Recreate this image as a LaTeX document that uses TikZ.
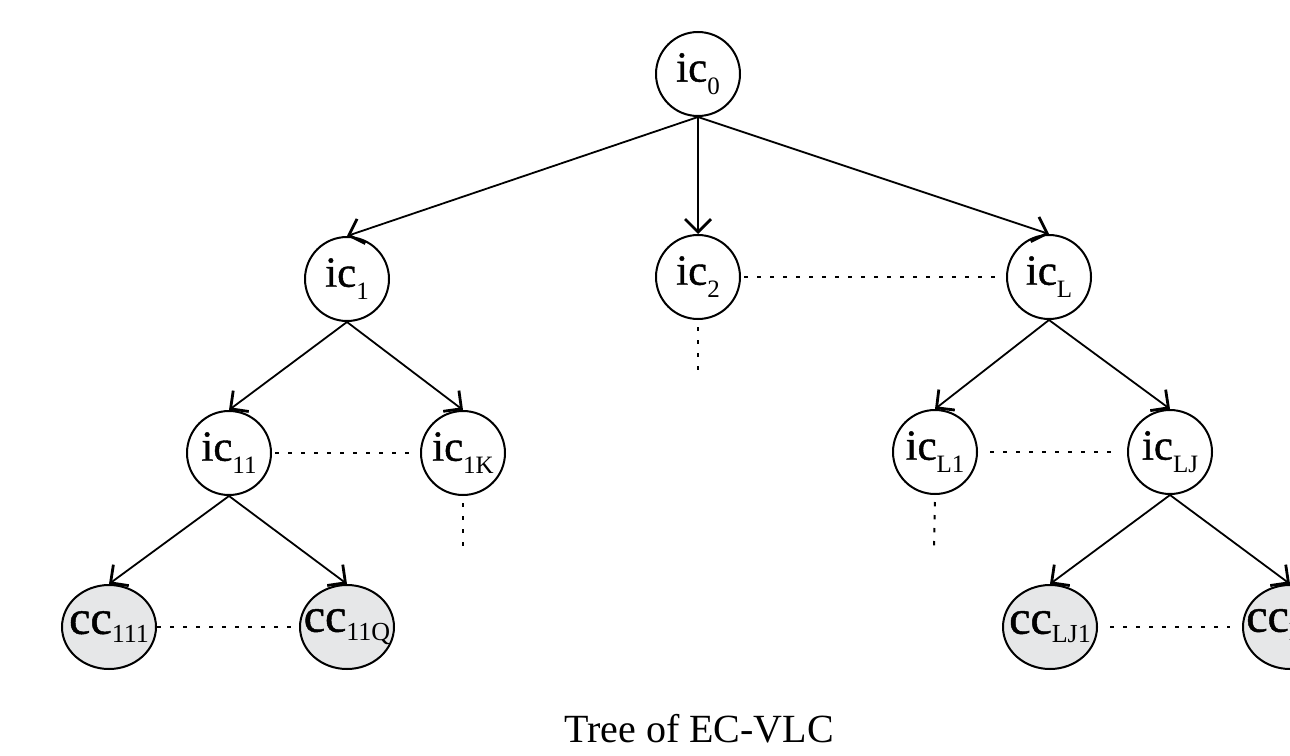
\documentclass[tikz,border=0pt]{standalone}
\usepackage{fontspec}
\setmainfont{Liberation Serif}
\newfontfamily\heavyfont[FakeBold=1]{Liberation Serif}
\usetikzlibrary{arrows.meta,shapes.geometric}
\definecolor{ccgray}{HTML}{E6E7E8}
\newcommand{\iclab}[1]{\fontsize{21.5}{21.5}\heavyfont ic\raisebox{-6.5pt}{\fontsize{12.5}{12.5}\rmfamily #1}}
\newcommand{\cclab}[1]{\fontsize{24}{24}\heavyfont cc\raisebox{-4.5pt}{\fontsize{13}{13}\rmfamily #1}}
\begin{document}
\begin{tikzpicture}[x=0.5pt,y=-0.5pt,
  icnode/.style={circle,draw,line width=1pt,minimum size=42pt,inner sep=0pt},
  ccnode/.style={ellipse,draw,fill=ccgray,line width=1pt,minimum width=47pt,minimum height=42pt,inner xsep=-6pt,inner ysep=0pt},
  tree/.style={line width=0.9pt,-{Straight Barb[length=6.5pt,width=13pt,line width=1.4pt]}},
  dots/.style={line width=1pt,dash pattern=on 2.2pt off 4.3pt}]
\useasboundingbox (0,0) rectangle (1290,755);
\clip (0,0) rectangle (1290,755);
% nodes
\node[icnode] (ic0) at (698,74) {\iclab{0}};
\node[icnode] (ic1) at (347,279) {\iclab{1}};
\node[icnode] (ic2) at (698,277) {\iclab{2}};
\node[icnode] (icL) at (1049,277) {\iclab{L}};
\node[icnode] (ic11) at (229,453) {\iclab{11}};
\node[icnode] (ic1K) at (463,453) {\iclab{1K}};
\node[icnode] (icL1) at (935,452) {\iclab{L1}};
\node[icnode] (icLJ) at (1170,452) {\iclab{LJ}};
\node[ccnode] (cc111) at (109,627) {\cclab{111}};
\node[ccnode] (cc11Q) at (347,627) {\cclab{11Q}};
\node[ccnode] (ccLJ1) at (1050,627) {\cclab{LJ1}};
\node[ccnode] (ccLJQ) at (1290,627) {\cclab{LJQ}};
\node[anchor=base,font=\fontsize{20}{20}\selectfont] (cap) at (699,742) {Tree of EC-VLC};
% arrows
\draw[tree] (ic0.south) -- (ic1.north);
\draw[tree] (ic0.south) -- (ic2.north);
\draw[tree] (ic0.south) -- (icL.north);
\draw[tree] (ic1.south) -- (ic11.north);
\draw[tree] (ic1.south) -- (ic1K.north);
\draw[tree] (icL.south) -- (icL1.north);
\draw[tree] (icL.south) -- (icLJ.north);
\draw[tree] (ic11.south) -- (cc111.north);
\draw[tree] (ic11.south) -- (cc11Q.north);
\draw[tree] (icLJ.south) -- (ccLJ1.north);
\draw[tree] (icLJ.south) -- (ccLJQ.north);
% dotted links
\coordinate (ic2end) at (698,372);
\coordinate (ic1Kend) at (463,548);
\coordinate (icL1end) at (934,548);
\draw[dots,shorten <=1.5pt,shorten >=1.5pt] (ic2.east) -- (icL.west);
\draw[dots,shorten <=1.5pt,shorten >=5pt] (ic11.east) -- (ic1K.west);
\draw[dots,shorten <=6pt,shorten >=8pt] (icL1.east) -- (icLJ.west);
\draw[dots,shorten <=0pt,shorten >=4pt] (cc111.east) -- (cc11Q.west);
\draw[dots,shorten <=6pt,shorten >=6pt] (ccLJ1.east) -- (ccLJQ.west);
\draw[dots,shorten <=3.5pt] (ic2.south) -- (ic2end);
\draw[dots,shorten <=3.5pt] (ic1K.south) -- (ic1Kend);
\draw[dots,shorten <=3.5pt] (icL1.south) -- (icL1end);
\end{tikzpicture}
\end{document}
